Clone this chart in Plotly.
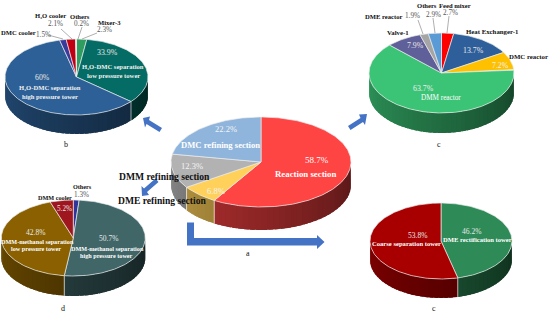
import numpy as np
import plotly.graph_objects as go

# ---------- data ----------
a_labels = ["Reaction section", "DME refining section", "DMM refining section", "DMC refining section"]
a_values = [58.7, 6.8, 12.3, 22.2]
b_labels = ["Mixer-3", "H2O-DMC separation low pressure tower", "H2O-DMC separation high pressure tower",
            "DMC cooler", "H2O cooler", "Others"]
b_values = [2.3, 33.9, 60, 1.5, 2.1, 0.2]
c_labels = ["Feed mixer", "Heat Exchanger-1", "DMC reactor", "DMM reactor", "Valve-1", "DME reactor", "Others"]
c_values = [2.7, 13.7, 7.2, 63.7, 7.9, 1.9, 2.9]
d_labels = ["Others", "DMM-methanol separation high pressure tower",
            "DMM-methanol separation low pressure tower", "DMM cooler"]
d_values = [1.3, 50.7, 42.8, 5.2]
e_labels = ["DME rectification tower", "Coarse separation tower"]
e_values = [46.2, 53.8]

# ---------- style ----------
a_colors = ["#FF4444", "#FFD05A", "#B2B2B2", "#8FB5DC"]
b_colors = ["#2F9C60", "#046C64", "#2D6096", "#3A3A9A", "#C00012", "#D8D8D8"]
c_colors = ["#FF0000", "#2E5F9A", "#FFC000", "#3CC476", "#5F5F9A", "#A5A5A5", "#5B9BD5"]
d_colors = ["#2F3599", "#406668", "#8A6000", "#A0161E"]
e_colors = ["#2E8B57", "#A80000"]

# centre x, centre y, rx, ry, wall depth (pixels of the page-sized axes)
pies = [
    (a_values, a_colors, (261, 162, 90, 45, 23)),
    (b_values, b_colors, (76.5, 77, 71.5, 38, 19)),
    (c_values, c_colors, (441.5, 73, 72.5, 40, 20)),
    (d_values, d_colors, (73.3, 238, 72, 38, 20)),
    (e_values, e_colors, (441, 241, 71, 38, 19)),
]


def shade(hex_color, f):
    r, g, b = (int(hex_color[i:i + 2], 16) for i in (1, 3, 5))
    return f"rgb({int(r * f)},{int(g * f)},{int(b * f)})"


fig = go.Figure()


def add_poly(xs, ys, fill, line, width):
    fig.add_trace(go.Scatter(x=xs, y=ys, mode="lines", fill="toself", fillcolor=fill,
                             line=dict(color=line, width=width), hoverinfo="skip", showlegend=False))


for values, colors, (cx, cy, rx, ry, depth) in pies:
    total = sum(values)
    edges = np.concatenate([[0], np.cumsum(values)]) / total * 360
    # side wall: gradient strips over the front half, each overlapping the next
    for i, col in enumerate(colors):
        lo, hi = max(edges[i], 90), min(edges[i + 1], 270)
        if hi <= lo:
            continue
        steps = np.linspace(lo, hi, max(2, int((hi - lo) / 4) + 2))
        for t0, t1 in zip(steps[:-1], steps[1:]):
            th = np.radians(np.linspace(t0, min(t1 + 3, hi), 6))
            xs = cx + rx * np.sin(th)
            ys = cy - ry * np.cos(th)
            f = 0.34 + 0.42 * ((t0 + t1) / 2 - 90) / 180
            c = shade(col, f)
            add_poly(np.r_[xs, xs[::-1], xs[0]], np.r_[ys, ys[::-1] + depth, ys[0]], c, c, 0)
    # wall seams
    for e in edges:
        if 90 < e < 270:
            th = np.radians(e)
            x0 = cx + rx * np.sin(th)
            y0 = cy - ry * np.cos(th)
            fig.add_trace(go.Scatter(x=[x0, x0], y=[y0, y0 + depth], mode="lines",
                                     line=dict(color="rgba(255,255,255,0.75)", width=0.8),
                                     hoverinfo="skip", showlegend=False))
    # top face
    for i, col in enumerate(colors):
        th = np.radians(np.linspace(edges[i], edges[i + 1], max(3, int(edges[i + 1] - edges[i]) + 2)))
        xs = np.r_[cx, cx + rx * np.sin(th), cx]
        ys = np.r_[cy, cy - ry * np.cos(th), cy]
        add_poly(xs, ys, col, "rgba(235,235,235,0.85)", 0.8)

# ---------- arrows ----------
ARROW = "#4472C4"
arrow_paths = [
    "M143,118 L150,116.5 L149,120 L162,128 L159.5,132 L146.5,124 L145,127.5 Z",
    "M367,114 L359,114.5 L360.5,118 L348,126 L350.5,130 L363,122 L365,125 Z",
    "M142,196 L149,195 L147,192 L158.5,182 L155.5,178.5 L144,188.5 L141.5,186 Z",
    "M187,222.5 L194,222.5 L194,238 L317,238 L317,235 L324.5,242 L317,249 L317,245.5 L187,245.5 Z",
]
fig.update_layout(shapes=[dict(type="path", path=p, fillcolor=ARROW, line=dict(width=0), layer="above")
                          for p in arrow_paths])

# ---------- leader lines ----------
leaders = [
    (48, 35, 63, 39), (61, 29, 72, 39), (82, 27, 78, 39), (97, 33, 82, 39),
    (418, 20, 423, 34), (433, 18, 435, 33), (449, 16, 447, 33),
]
for x0, y0, x1, y1 in leaders:
    fig.add_trace(go.Scatter(x=[x0, x1], y=[y0, y1], mode="lines", line=dict(color="#8C8C8C", width=0.7),
                             hoverinfo="skip", showlegend=False))

# ---------- text: (text, x, y, size, bold, colour) ----------
W = "#FFFFFF"
K = "#111111"
G = "#555555"
H2O = "H₂O"
texts = [
    # a
    ("22.2%", 226, 129, 8.5, 0, "#F4F4F4"), ("DMC refining section", 220, 145, 8.6, 1, W),
    ("58.7%", 317, 160, 9, 0, W), ("Reaction section", 305, 173.5, 8.8, 1, W),
    ("12.3%", 192, 166, 8.5, 0, "#F4F4F4"), ("6.8%", 216, 191, 8.5, 0, "#F4F4F4"),
    ("DMM refining section", 164, 176, 9.6, 1, K), ("DME refining section", 162, 200, 9.6, 1, K),
    ("a", 248, 253, 8, 0, K),
    # b
    (H2O + " cooler", 50, 15.5, 6.6, 1, K), ("2.1%", 55, 24, 7.2, 0, G),
    ("Others", 80, 16, 6.6, 1, K), ("0.2%", 81, 24, 7.2, 0, G),
    ("Mixer-3", 109, 22, 6.6, 1, K), ("2.3%", 104, 30, 7.2, 0, G),
    ("DMC cooler", 18, 32, 6.6, 1, K), ("1.5%", 43, 35, 7.2, 0, G),
    ("33.9%", 107, 52, 7.8, 0, "#E8E8E8"), (H2O + "-DMC separation", 113, 66, 6.6, 1, "#F0F0F0"),
    ("low pressure tower", 113, 75, 6.6, 1, "#F0F0F0"),
    ("60%", 42, 77, 7.8, 0, "#E8E8E8"), (H2O + "-DMC separation", 50, 87, 6.6, 1, "#F0F0F0"),
    ("high pressure tower", 50, 96, 6.6, 1, "#F0F0F0"), ("b", 66, 144, 8, 0, K),
    # c
    ("Others", 427, 5, 6.6, 1, K), ("Feed mixer", 455, 5, 6.6, 1, K),
    ("2.9%", 433, 14.5, 7.2, 0, G), ("2.7%", 450, 13, 7.2, 0, G),
    ("DME reactor", 383, 16, 6.6, 1, K), ("1.9%", 412, 16, 7.2, 0, G),
    ("Valve-1", 398, 32, 6.8, 1, K), ("7.9%", 415, 45, 7.8, 0, "#E8E8E8"),
    ("Heat Exchanger-1", 492, 31, 6.8, 1, K), ("13.7%", 473, 50, 7.8, 0, "#E8E8E8"),
    ("DMC reactor", 528, 56, 6.8, 1, K), ("7.2%", 500, 65, 7.8, 0, "#F4F4F4"),
    ("63.7%", 423, 88, 7.8, 0, "#EEEEEE"), ("DMM reactor", 441, 98, 7.2, 0, W),
    ("c", 439, 144, 8, 0, K),
    # d
    ("Others", 82, 186.5, 6.2, 1, K), ("1.3%", 81, 194.5, 7.2, 0, G),
    ("DMM cooler", 55, 197, 6.2, 1, K), ("5.2%", 64, 209, 7.2, 0, "#E8E8E8"),
    ("42.8%", 35, 232, 7.5, 0, "#E8E8E8"), ("DMM-methanol separation", 37, 241, 6.2, 1, W),
    ("low pressure tower", 36, 248, 6.2, 1, W),
    ("50.7%", 108, 238, 7.5, 0, "#E8E8E8"), ("DMM-methanol separation", 107, 248, 6.2, 1, W),
    ("high pressure tower", 106, 255, 6.2, 1, W), ("d", 63, 308, 8, 0, K),
    # e
    ("46.2%", 471, 231, 7.5, 0, "#E8E8E8"), ("DME rectification tower", 477, 239, 6.6, 1, W),
    ("53.8%", 417, 235, 7.5, 0, "#E8E8E8"), ("Coarse separation tower", 406, 243, 6.6, 1, W),
    ("c", 434, 308, 8, 0, K),
]
annotations = []
for txt, x, y, size, bold, col in texts:
    annotations.append(dict(
        x=x, y=y, xref="x", yref="y", showarrow=False, xanchor="center", yanchor="middle",
        text=f"<b>{txt}</b>" if bold else txt, borderpad=0,
        font=dict(family="Liberation Serif", size=size, color=col)))

fig.update_layout(
    width=550, height=313, margin=dict(l=0, r=0, t=0, b=0),
    paper_bgcolor="white", plot_bgcolor="white", showlegend=False,
    xaxis=dict(range=[0, 550], visible=False, fixedrange=True),
    yaxis=dict(range=[313, 0], visible=False, fixedrange=True),
    annotations=annotations,
)
fig.write_html("out.html", config=dict(displayModeBar=False),
               post_script="document.body.style.margin='0';document.body.style.overflow='hidden';")
